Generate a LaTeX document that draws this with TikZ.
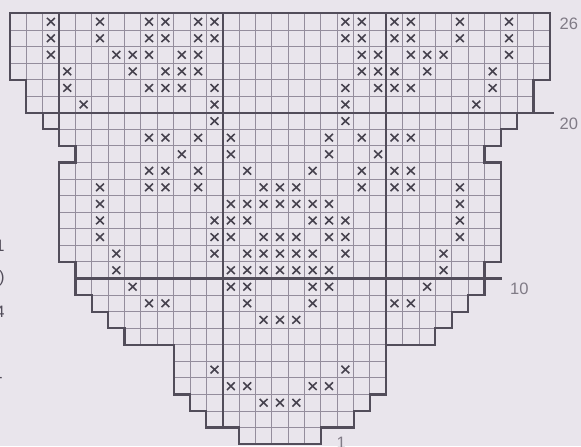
\documentclass[tikz,border=0pt]{standalone}
\usepackage{fontspec}
\setmainfont{Liberation Sans}
\definecolor{paper}{RGB}{233,229,236}
\definecolor{gridgray}{RGB}{148,141,156}
\definecolor{inkgray}{RGB}{82,77,90}
\definecolor{crossgray}{RGB}{70,66,78}
\definecolor{labelgray}{RGB}{128,123,134}
\tikzset{
  gridline/.style={draw=gridgray,line width=0.65pt},
  outline/.style={draw=inkgray,line width=1.5pt,line join=miter},
  tenline/.style={draw=inkgray,line width=1.5pt},
  stitch/.style={draw=crossgray,line width=1.1pt},
  rowlabel/.style={text=labelgray,font=\fontsize{11.5}{13}\selectfont,inner sep=0pt,anchor=west},
  fragment/.style={text=inkgray,font=\fontsize{11.5}{13}\selectfont,inner sep=0pt,anchor=east}
}

\begin{document}
\begin{tikzpicture}[x=0.4cm,y=0.405cm]
  \fill[paper](-0.611,-0.12)rectangle(34.9,26.81);
  \useasboundingbox(-0.611,-0.12)rectangle(34.9,26.81);
  % squares of each row: row/left/right
  \foreach \r/\s/\e in {1/14/19,2/12/21,3/11/22,4/10/23,5/10/23,6/10/23,7/7/26,8/6/27,9/5/28,10/4/29,11/4/29,
      12/3/30,13/3/30,14/3/30,15/3/30,16/3/30,17/3/30,18/4/29,19/3/30,20/2/31,21/1/32,22/1/32,23/0/33,24/0/33,25/0/33,26/0/33}
    \draw[gridline,step={(1,1)}](\s,\r-1)grid(\e,\r);
  % every tenth line
  \draw[tenline](3,18)--(3,26)(13,1)--(13,26)(23,3)--(23,26);
  \draw[tenline](1,20)--(33.25,20);
  \draw[tenline](4,10)--(30.05,10);
  \draw[outline](0,26)--(0,22)--(1,22)--(1,20)--(2,20)--(2,19)--(3,19)--(3,18)--(4,18)--(4,17)--(3,17)--(3,11)--(4,11)
    --(4,9)--(5,9)--(5,8)--(6,8)--(6,7)--(7,7)--(7,6)--(10,6)--(10,3)--(11,3)--(11,2)--(12,2)--(12,1)--(14,1)--(14,0)
    --(19,0)--(19,1)--(21,1)--(21,2)--(22,2)--(22,3)--(23,3)--(23,6)--(26,6)--(26,7)--(27,7)--(27,8)--(28,8)--(28,9)
    --(29,9)--(29,11)--(30,11)--(30,17)--(29,17)--(29,18)--(30,18)--(30,19)--(31,19)--(31,20)--(32,20)--(32,22)
    --(33,22)--(33,26)--cycle;
  % crosses: row/columns
  \foreach \r/\cl in {26/{3,6,9,10,12,13,21,22,24,25,28,31},25/{3,6,9,10,12,13,21,22,24,25,28,31},
      24/{3,7,8,9,11,12,22,23,25,26,27,31},23/{4,8,10,11,12,22,23,24,26,30},22/{4,9,10,11,13,21,23,24,25,30},
      21/{5,13,21,29},20/{13,21},19/{9,10,12,14,20,22,24,25},18/{11,14,20,23},17/{9,10,12,15,19,22,24,25},
      16/{6,9,10,12,16,17,18,22,24,25,28},15/{6,14,15,16,17,18,19,20,28},14/{6,13,14,15,19,20,21,28},
      13/{6,13,14,16,17,18,20,21,28},12/{7,13,15,16,17,18,19,21,27},11/{7,14,15,16,17,18,19,20,27},
      10/{8,14,15,19,20,26},9/{9,10,15,19,24,25},8/{16,17,18},5/{13,21},4/{14,15,19,20},3/{16,17,18}}
    \foreach \c in \cl
      \draw[stitch](\c-0.74,\r-0.73)--(\c-0.26,\r-0.27)(\c-0.74,\r-0.27)--(\c-0.26,\r-0.73);
  \node[rowlabel](lbl26)at(33.58,25.35){26};
  \node[rowlabel](lbl20)at(33.58,19.35){20};
  \node[rowlabel](lbl10)at(30.55,9.35){10};
  \node[rowlabel](lbl1)at(19.95,0.06){1};
  % cut-off text at the left edge
  \node[fragment](frag1)at(-0.31,12.0){1};
  \node[fragment](frag2)at(-0.31,10.0){)};
  \node[fragment](frag3)at(-0.31,8.0){4};
  \node[fragment](frag4)at(-0.43,3.9){-};
\end{tikzpicture}
\end{document}
